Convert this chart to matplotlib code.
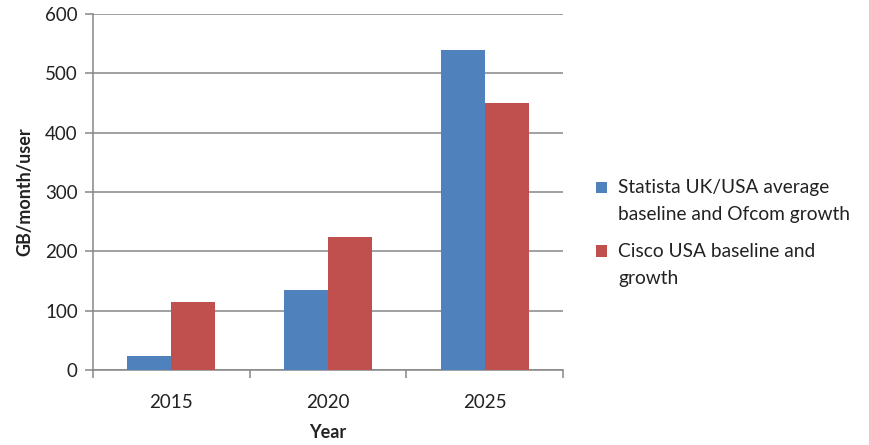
import numpy as np
import matplotlib
matplotlib.use("Agg")
import matplotlib.pyplot as plt
from matplotlib.patches import Patch, Rectangle
from matplotlib.legend_handler import HandlerPatch

plt.rcParams['font.family'] = ['Lato', 'DejaVu Sans']

years = ["2015", "2020", "2025"]
statista = [24, 135, 540]
cisco = [114, 225, 450]
series_names = ["Statista UK/USA average\nbaseline and Ofcom growth",
                "Cisco USA baseline and\ngrowth"]
colors = ["#4F81BD", "#C0504D"]
axis_grey = "#868686"
text_col = "#222222"

fig = plt.figure(figsize=(8.7, 4.45), dpi=100)
ax = fig.add_axes([93 / 870, 75 / 445, 470 / 870, 356 / 445])

x = np.arange(len(years))
w = 0.28
ax.bar(x - w / 2, statista, width=w, color=colors[0], zorder=3)
ax.bar(x + w / 2, cisco, width=w, color=colors[1], zorder=3)

ax.set_xlim(-0.5, len(years) - 0.5)
ax.set_ylim(0, 600)
ax.set_yticks(range(0, 601, 100))
ax.yaxis.grid(True, color=axis_grey, linewidth=1.1, zorder=0)
ax.set_axisbelow(True)

ax.set_xticks(x)
ax.set_xticklabels(years)
ax.set_xticks(np.arange(-0.5, len(years), 1.0), minor=True)
ax.tick_params(axis='x', which='major', length=0, pad=17, labelsize=13.5, labelcolor=text_col)
ax.tick_params(axis='x', which='minor', length=6, width=1.1, color=axis_grey)
ax.tick_params(axis='y', length=6, width=1.1, color=axis_grey, labelsize=13.5,
               labelcolor=text_col, pad=5)

for side in ("top", "right"):
    ax.spines[side].set_visible(False)
for side in ("left", "bottom"):
    ax.spines[side].set_color(axis_grey)
    ax.spines[side].set_linewidth(1.1)

ax.set_ylabel("GB/month/user", fontsize=13, fontweight="bold", labelpad=8, color=text_col)
ax.set_xlabel("Year", fontsize=13, fontweight="bold", labelpad=10, color=text_col)


def top_aligned_square(legend, orig_handle, xdescent, ydescent, width, height, fontsize):
    # lift the swatch so it sits beside the first line of a two-line label
    return Rectangle((-xdescent, -ydescent + 10), width, height)


handles = [Patch(facecolor=c, edgecolor="none") for c in colors]
leg = fig.legend(handles, series_names, loc="center left",
                 bbox_to_anchor=(596 / 870, (445 - 233) / 445), frameon=False,
                 borderpad=0, borderaxespad=0,
                 fontsize=13.8, handlelength=0.55, handleheight=0.55, handletextpad=0.6,
                 labelspacing=1.0, labelcolor=text_col,
                 handler_map={Patch: HandlerPatch(patch_func=top_aligned_square)})
for t in leg.get_texts():
    t.set_linespacing(1.75)

fig.savefig("out.png", dpi=100)
